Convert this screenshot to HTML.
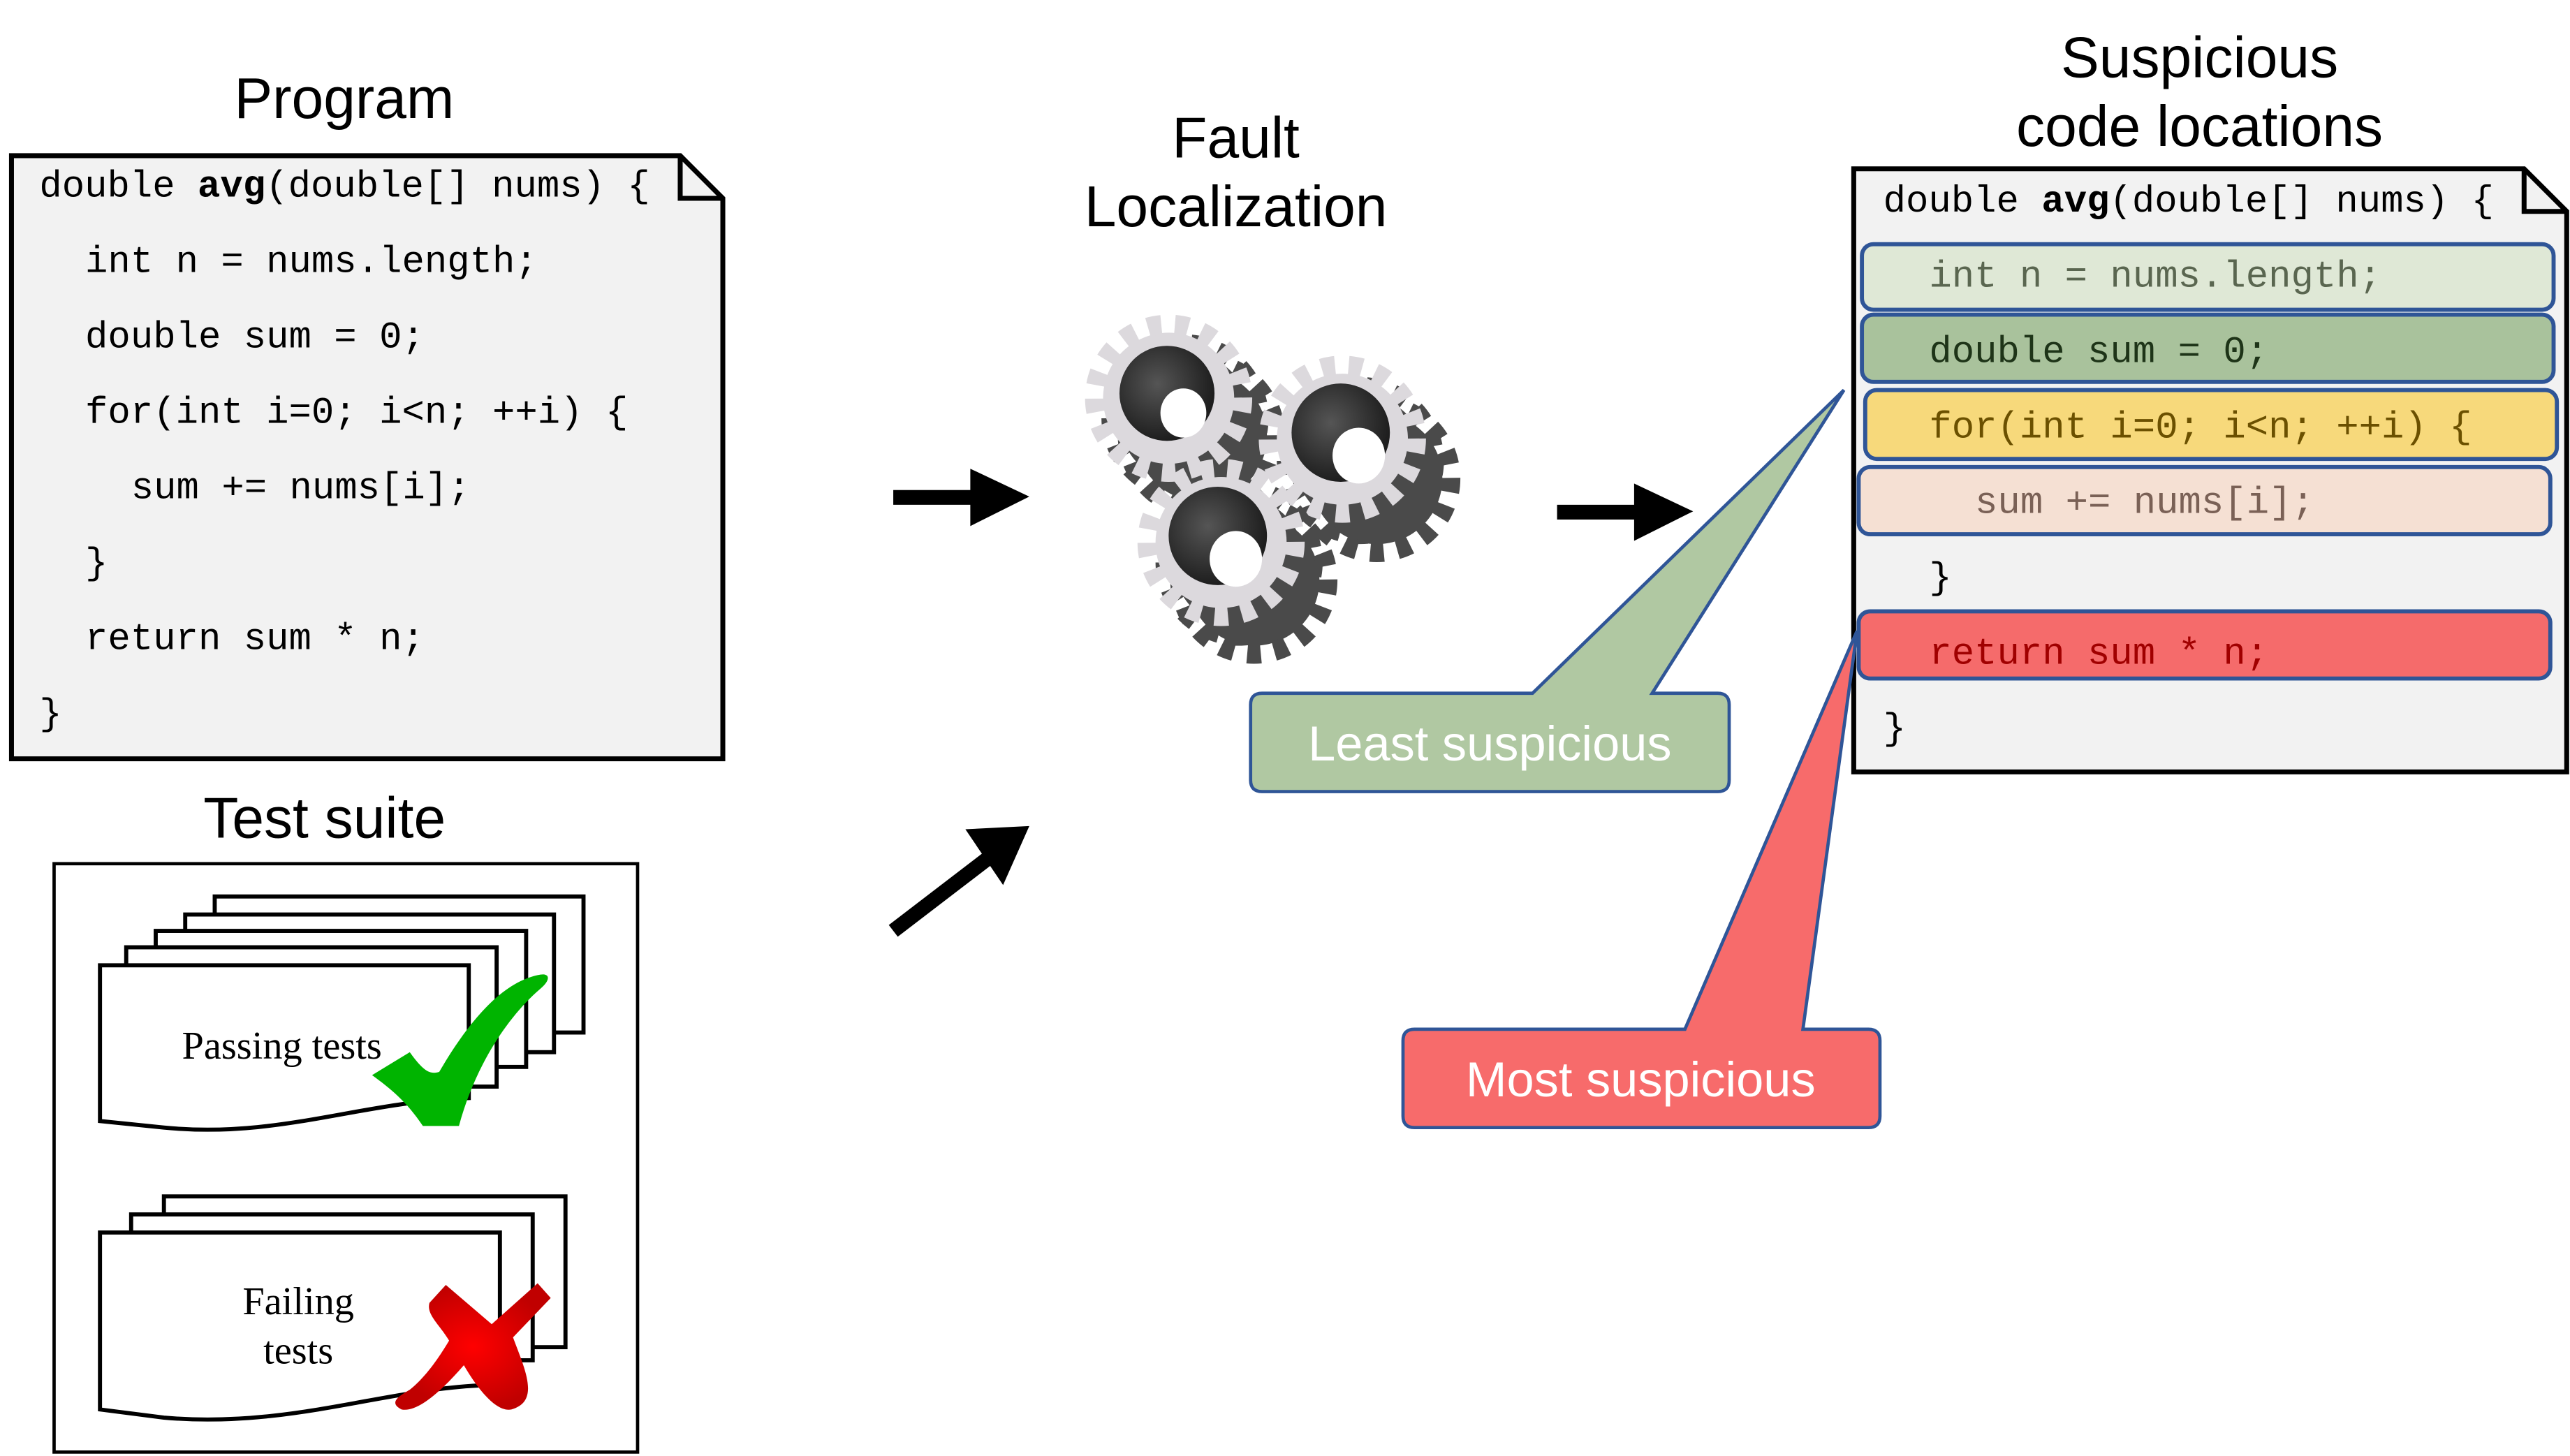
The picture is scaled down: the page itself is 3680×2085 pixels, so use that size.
<!DOCTYPE html>
<html><head><meta charset="utf-8"><style>
html,body{margin:0;padding:0;background:#fff;}
svg{display:block;}
.m{font-family:"Liberation Mono",monospace;font-size:23px;}
.s{font-family:"Liberation Sans",sans-serif;}
.r{font-family:"Liberation Serif",serif;font-size:24px;}
</style></head><body>
<svg width="3680" height="2085" viewBox="0 0 1568 888.4" xmlns="http://www.w3.org/2000/svg">
<defs>
<radialGradient id="rx" cx="0.5" cy="0.5" r="0.5"><stop offset="0" stop-color="#ff0000"/><stop offset="1" stop-color="#c00000"/></radialGradient>
<radialGradient id="hole" cx="0.4" cy="0.4" r="0.6"><stop offset="0" stop-color="#555"/><stop offset="1" stop-color="#1e1e1e"/></radialGradient>
<g id="gdark">
<circle r="40" fill="#4a4a4a"/>
<circle r="45" fill="none" stroke="#4a4a4a" stroke-width="12" stroke-dasharray="8.3 8.3"/>
</g>
<g id="glight">
<circle r="40" fill="#dcd9dd"/>
<circle r="45" fill="none" stroke="#dcd9dd" stroke-width="12" stroke-dasharray="8.3 8.3"/>
</g>
</defs>
<rect width="1568" height="888.4" fill="#fff"/>

<!-- Titles -->
<text x="210" y="72" class="s" font-size="35" text-anchor="middle">Program</text>
<text x="198" y="511" class="s" font-size="35" text-anchor="middle">Test suite</text>
<text x="754" y="96" class="s" font-size="35" text-anchor="middle">Fault</text>
<text x="754" y="138" class="s" font-size="35" text-anchor="middle">Localization</text>
<text x="1342" y="47" class="s" font-size="35" text-anchor="middle">Suspicious</text>
<text x="1342" y="89" class="s" font-size="35" text-anchor="middle">code locations</text>

<!-- Program box -->
<path d="M7,95 L415,95 L441,121 L441,463 L7,463 Z" fill="#f2f2f2" stroke="#000" stroke-width="3"/>
<path d="M415,95 L415,121 L441,121" fill="none" stroke="#000" stroke-width="3"/>
<g class="m">
<text x="24" y="120">double <tspan font-weight="bold">avg</tspan>(double[] nums) {</text>
<text x="52" y="166">int n = nums.length;</text>
<text x="52" y="212">double sum = 0;</text>
<text x="52" y="258">for(int i=0; i&lt;n; ++i) {</text>
<text x="80" y="304">sum += nums[i];</text>
<text x="52" y="350">}</text>
<text x="52" y="396">return sum * n;</text>
<text x="24" y="442">}</text>
</g>

<!-- Test suite -->
<rect x="33" y="527" width="356" height="359" fill="#fff" stroke="#000" stroke-width="2"/>
<g fill="#fff" stroke="#000" stroke-width="2.5">
<rect x="131" y="547" width="225" height="83"/>
<rect x="113" y="558" width="225" height="84"/>
<rect x="95" y="568" width="226" height="83"/>
<rect x="77" y="578" width="226" height="85"/>
<path d="M61,589 L286,589 L286,670 C220,672 170,695 100,688 L61,684 Z"/>
<rect x="100" y="730" width="245" height="92"/>
<rect x="80" y="741" width="245" height="89"/>
<path d="M61,752 L305,752 L305,845 C240,845 180,872 100,865 L61,860 Z"/>
</g>
<text x="172" y="646" class="r" text-anchor="middle">Passing tests</text>
<text x="182" y="802" class="r" text-anchor="middle">Failing</text>
<text x="182" y="832" class="r" text-anchor="middle">tests</text>
<path d="M227,656 L250,642 C258,653 262,656 268,654 C285,625 305,600 328,595 C336,593 336,598 330,603 C310,620 290,650 280,687 L258,687 C248,672 238,664 227,656 Z" fill="#00b400"/>
<path d="M262,795 L272,784 L300,808 L328,783 L336,792 L313,816 C320,835 330,855 312,860 C302,862 290,845 283,833 C270,848 255,862 245,860 C237,856 243,852 250,848 C260,840 268,828 274,818 C268,808 260,802 262,795 Z" fill="url(#rx)"/>

<!-- Arrows -->
<g fill="#000">
<rect x="545" y="299" width="50" height="9"/><polygon points="592,286 628,303 592,321"/>
<rect x="950" y="308" width="50" height="9"/><polygon points="997,295 1033,312 997,330"/>
<line x1="545" y1="568" x2="605" y2="522" stroke="#000" stroke-width="9"/>
<polygon points="589,506 628,504 612,540"/>
</g>

<!-- Gears -->
<g>
<use href="#gdark" x="723" y="255"/><use href="#gdark" x="733" y="266"/>
<use href="#glight" x="713" y="243"/>
<circle cx="712" cy="240" r="29" fill="url(#hole)"/>
<ellipse cx="722" cy="252" rx="14" ry="15" fill="#fff"/>

<use href="#gdark" x="830" y="281"/><use href="#gdark" x="840" y="292"/>
<use href="#glight" x="819" y="268"/>
<circle cx="818" cy="264" r="30" fill="url(#hole)"/>
<ellipse cx="829" cy="278" rx="16" ry="17" fill="#fff"/>

<use href="#gdark" x="756" y="343"/><use href="#gdark" x="765" y="354"/>
<use href="#glight" x="745" y="331"/>
<circle cx="743" cy="327" r="30" fill="url(#hole)"/>
<ellipse cx="754" cy="341" rx="16" ry="17" fill="#fff"/>
</g>

<!-- Suspicious box -->
<path d="M1131,103 L1540,103 L1566,129 L1566,471 L1131,471 Z" fill="#f2f2f2" stroke="#000" stroke-width="3"/>
<path d="M1540,103 L1540,129 L1566,129" fill="none" stroke="#000" stroke-width="3"/>
<g stroke="#2f5597" stroke-width="2.5">
<rect x="1136" y="149" width="422" height="40" rx="7" fill="#dfe8d6"/>
<rect x="1136" y="192" width="422" height="41" rx="7" fill="#a9c29c"/>
<rect x="1138" y="238" width="422" height="42" rx="7" fill="#f7d97b"/>
<rect x="1134" y="285" width="422" height="41" rx="7" fill="#f5e0d3"/>
<rect x="1134" y="373" width="422" height="41" rx="7" fill="#f56b6b"/>
</g>
<g class="m">
<text x="1149" y="129">double <tspan font-weight="bold">avg</tspan>(double[] nums) {</text>
<text x="1177" y="175" fill="#5a6650">int n = nums.length;</text>
<text x="1177" y="221" fill="#1e3418">double sum = 0;</text>
<text x="1177" y="267" fill="#6b5000">for(int i=0; i&lt;n; ++i) {</text>
<text x="1205" y="313" fill="#7a6156">sum += nums[i];</text>
<text x="1177" y="359">}</text>
<text x="1177" y="405" fill="#a00000">return sum * n;</text>
<text x="1149" y="451">}</text>
</g>

<!-- Callouts -->
<path d="M770,423 L935,423 L1125,238 L1008,423 L1048,423 Q1055,423 1055,430 L1055,476 Q1055,483 1048,483 L770,483 Q763,483 763,476 L763,430 Q763,423 770,423 Z" fill="#b0c8a2" stroke="#2f5597" stroke-width="2"/>
<text x="909" y="464" class="s" font-size="30" fill="#fff" text-anchor="middle">Least suspicious</text>
<path d="M863,628 L1028,628 L1133,385 L1100,628 L1140,628 Q1147,628 1147,635 L1147,681 Q1147,688 1140,688 L863,688 Q856,688 856,681 L856,635 Q856,628 863,628 Z" fill="#f76b6b" stroke="#2f5597" stroke-width="2"/>
<text x="1001" y="669" class="s" font-size="30" fill="#fff" text-anchor="middle">Most suspicious</text>
</svg>
</body></html>
